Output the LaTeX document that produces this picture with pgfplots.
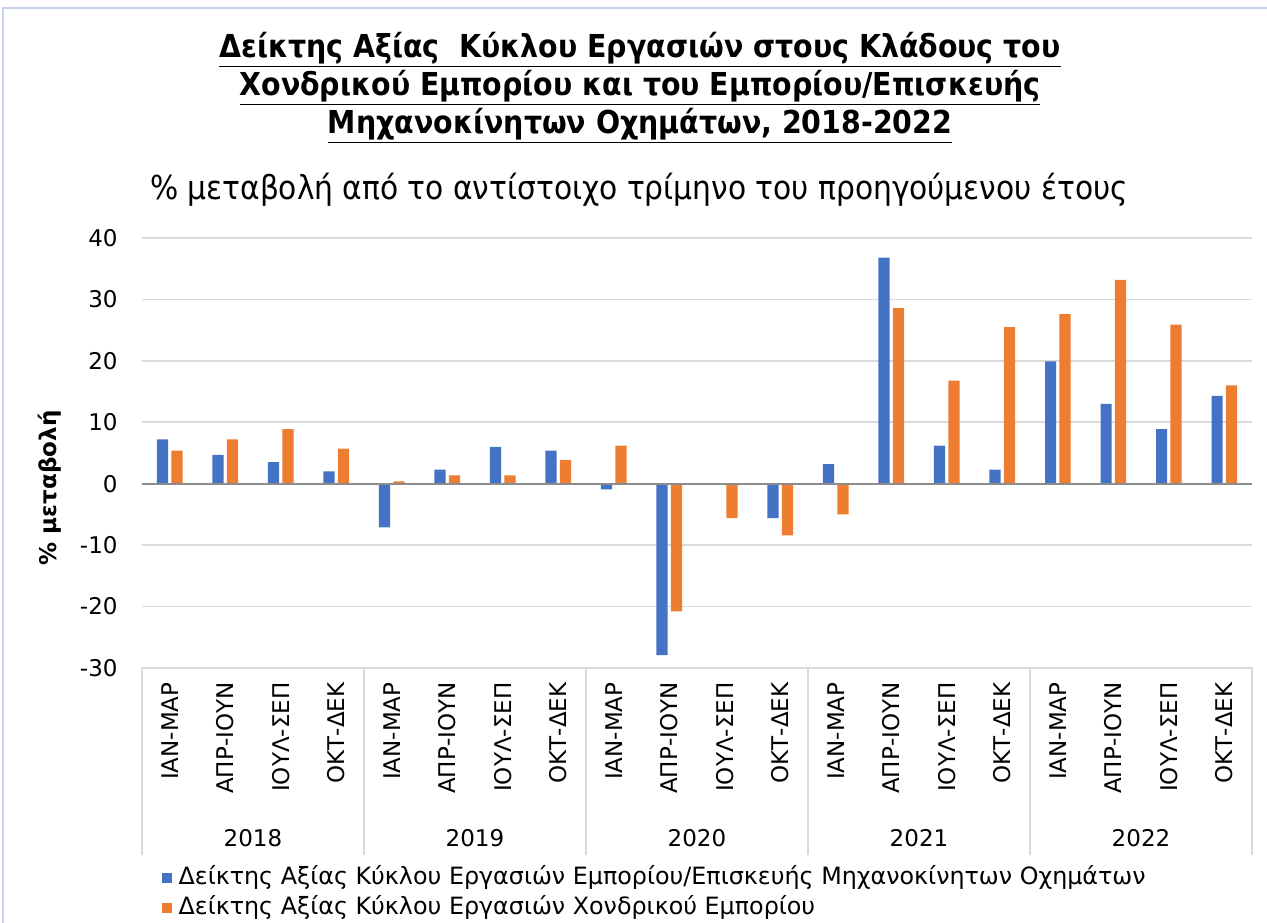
\documentclass[border=0pt]{standalone}
\usepackage{fontspec}
\setmainfont{DejaVu Sans}
\newfontfamily\condfont{DejaVu Sans Condensed}
\usepackage{pgfplots}
\usepackage{pgfplotstable}
\pgfplotsset{compat=1.18}
\definecolor{cblue}{HTML}{4472C4}
\definecolor{corange}{HTML}{ED7D31}
\definecolor{gridc}{HTML}{D9D9D9}
\definecolor{framec}{HTML}{C5D2EA}

\pgfplotstableread{
x blue orange
0 7.2 5.4
1 4.7 7.2
2 3.5 8.9
3 2.0 5.7
4 -7.1 0.4
5 2.3 1.35
6 6.0 1.35
7 5.4 3.9
8 -0.9 6.2
9 -27.9 -20.8
10 0.0 -5.6
11 -5.6 -8.4
12 3.2 -5.0
13 36.8 28.6
14 6.2 16.8
15 2.3 25.5
16 19.9 27.6
17 13.0 33.2
18 8.9 25.9
19 14.3 16.0
}\datatable

\begin{document}
\begin{tikzpicture}
\useasboundingbox (0,0) rectangle (633.5pt,461pt);
\draw[framec, line width=1pt] (1.5pt,-10pt) -- (1.5pt,457pt) -- (700pt,457pt);
\node[font=\condfont\bfseries\fontsize{15.8}{17.5}\selectfont, align=center] at (320pt,417pt)
 {\underline{Δείκτης Αξίας~ Κύκλου Εργασιών στους Κλάδους του}\\
  \underline{Χονδρικού Εμπορίου και του Εμπορίου/Επισκευής}\\
  \underline{Μηχανοκίνητων Οχημάτων, 2018-2022}};
\node[font=\condfont\fontsize{16.5}{18}\selectfont] at (319.5pt,366pt)
 {\% μεταβολή από το αντίστοιχο τρίμηνο του προηγούμενου έτους};
\begin{axis}[
 at={(71pt,127pt)}, anchor=south west, scale only axis,
 width=555pt, height=215pt,
 ymin=-30, ymax=40, xmin=-0.5, xmax=19.5,
 axis line style={draw=none},
 major tick length=0pt,
 xtick pos=bottom, ytick pos=left,
 ymajorgrids, grid style={gridc, line width=0.9pt},
 ytick={-30,-20,...,40},
 yticklabels={-30,-20,-10,0,10,20,30,40},
 yticklabel style={font=\fontsize{11.5}{12}\selectfont},
 yticklabel shift=8.7pt,
 xtick={0,...,19},
 xticklabels={ΙΑΝ-ΜΑΡ,ΑΠΡ-ΙΟΥΝ,ΙΟΥΛ-ΣΕΠ,ΟΚΤ-ΔΕΚ,ΙΑΝ-ΜΑΡ,ΑΠΡ-ΙΟΥΝ,ΙΟΥΛ-ΣΕΠ,ΟΚΤ-ΔΕΚ,ΙΑΝ-ΜΑΡ,ΑΠΡ-ΙΟΥΝ,ΙΟΥΛ-ΣΕΠ,ΟΚΤ-ΔΕΚ,ΙΑΝ-ΜΑΡ,ΑΠΡ-ΙΟΥΝ,ΙΟΥΛ-ΣΕΠ,ΟΚΤ-ΔΕΚ,ΙΑΝ-ΜΑΡ,ΑΠΡ-ΙΟΥΝ,ΙΟΥΛ-ΣΕΠ,ΟΚΤ-ΔΕΚ},
 xticklabel style={font=\fontsize{11.5}{12}\selectfont, rotate=90, anchor=east},
 xticklabel shift=3.7pt,
 extra x ticks={-0.5,3.5,7.5,11.5,15.5,19.5},
 extra x tick labels={},
 extra x tick style={major tick length=93.5pt, tick align=outside, grid=none, major tick style={gridc, line width=0.9pt}},
 legend style={at={(axis description cs:0.0173,-0.46)}, anchor=north west, draw=none, fill=none, inner sep=0pt,
   font=\fontsize{11.9}{13}\selectfont, row sep=3pt, cells={anchor=west},
   nodes={text height=8.5pt, text depth=2.5pt, inner ysep=0.5pt, inner xsep=3.5pt}},
 clip=false,
]
\addplot[ybar, bar width=0.2, bar shift=-0.13, fill=cblue, draw=none,
  legend image code/.code={\fill[cblue] (0pt,-2.5pt) rectangle (5pt,2.5pt);}]
  table[x=x, y=blue]{\datatable};
\addlegendentry{Δείκτης Αξίας Κύκλου Εργασιών Εμπορίου/Επισκευής Μηχανοκίνητων Οχημάτων}
\addplot[ybar, bar width=0.2, bar shift=0.13, fill=corange, draw=none,
  legend image code/.code={\fill[corange] (0pt,-2.5pt) rectangle (5pt,2.5pt);}]
  table[x=x, y=orange]{\datatable};
\addlegendentry{Δείκτης Αξίας Κύκλου Εργασιών Χονδρικού Εμπορίου}
\draw[color=black!45, line width=0.8pt] (axis cs:-0.5,0) -- (axis cs:19.5,0);
\node[rotate=90, font=\bfseries\fontsize{11.5}{12}\selectfont] at (axis description cs:-0.0829,0.419) {\% μεταβολή};
\node[font=\fontsize{11.5}{12}\selectfont, yshift=-85pt] at (axis cs:1.5,-30) {2018};
\node[font=\fontsize{11.5}{12}\selectfont, yshift=-85pt] at (axis cs:5.5,-30) {2019};
\node[font=\fontsize{11.5}{12}\selectfont, yshift=-85pt] at (axis cs:9.5,-30) {2020};
\node[font=\fontsize{11.5}{12}\selectfont, yshift=-85pt] at (axis cs:13.5,-30) {2021};
\node[font=\fontsize{11.5}{12}\selectfont, yshift=-85pt] at (axis cs:17.5,-30) {2022};
\end{axis}
\end{tikzpicture}
\end{document}
